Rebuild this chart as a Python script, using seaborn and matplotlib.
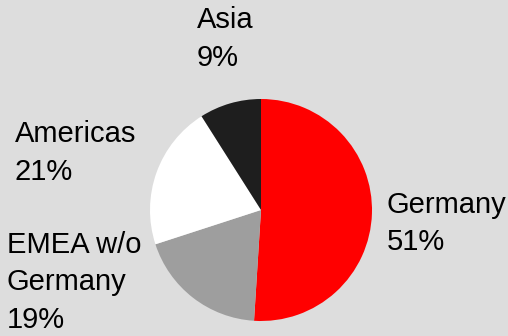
import matplotlib
matplotlib.use("Agg")
import matplotlib.pyplot as plt
import seaborn as sns

regions = ["Germany", "EMEA w/o\nGermany", "Americas", "Asia"]
shares = [51, 19, 21, 9]
colors = ["#ff0000", "#9e9e9e", "#ffffff", "#1e1e1e"]

sns.set_theme(style="white")
plt.rcParams["font.family"] = ["Liberation Sans", "DejaVu Sans"]

W, H = 508, 336
fig = plt.figure(figsize=(W / 100, H / 100), dpi=100)
fig.patch.set_facecolor("#dddddd")

cx, cy, r = 261, 210, 111
ax = fig.add_axes([(cx - r) / W, (H - cy - r) / H, 2 * r / W, 2 * r / H])
ax.set_facecolor("none")
ax.pie(shares, colors=sns.color_palette(colors), startangle=90, counterclock=False,
       radius=1, wedgeprops=dict(linewidth=0))
ax.set_xlim(-1, 1)
ax.set_ylim(-1, 1)
ax.set_aspect("equal")
ax.axis("off")

# label positions (pixels: left x, first-line baseline y)
label_pos = {
    "Germany": (387, 213),
    "EMEA w/o\nGermany": (7, 253),
    "Americas": (15, 142),
    "Asia": (197, 28),
}
fs = 21
for name, val in zip(regions, shares):
    x, y = label_pos[name]
    lines = name.split("\n") + [f"{val}%"]
    for i, line in enumerate(lines):
        fig.text(x / W, 1 - (y + i * 37.5) / H, line, fontsize=fs, color="#000000",
                 ha="left", va="baseline")

fig.savefig("out.png", dpi=100, facecolor=fig.get_facecolor())
